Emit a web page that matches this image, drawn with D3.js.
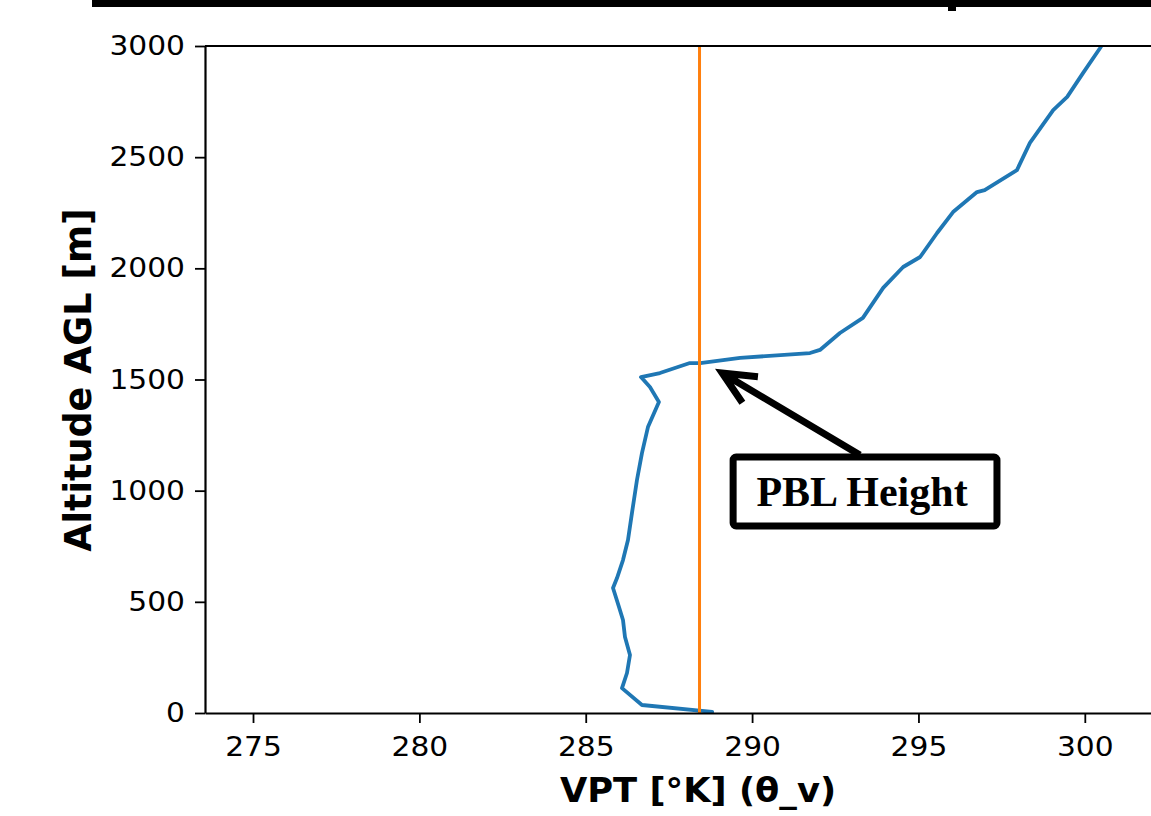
<!DOCTYPE html>
<html>
<head>
<meta charset="utf-8">
<script src="https://cdn.jsdelivr.net/npm/d3@7"></script>
<style>
html,body{margin:0;padding:0;background:#fff;}
svg{display:block;}
</style>
</head>
<body>
<svg id="chart" width="1151" height="816"></svg>
<script>
// ---- data ----
const vpt = [288.80, 286.69, 286.09, 286.24, 286.33, 286.18, 286.12, 286.00, 285.82, 285.94, 286.12, 286.27, 286.39, 286.54, 286.69, 286.87, 287.20, 286.93, 286.66, 287.23, 288.13, 288.44, 289.64, 291.74, 292.04, 292.64, 293.33, 293.94, 294.54, 295.05, 295.56, 296.04, 296.76, 296.99, 297.96, 298.35, 299.05, 299.47, 299.95, 300.46, 300.62];
const altitude = [5, 36, 112, 180, 261, 342, 418, 477, 562, 607, 688, 778, 900, 1048, 1169, 1286, 1399, 1466, 1511, 1529, 1574, 1574, 1597, 1619, 1633, 1709, 1777, 1912, 2006, 2051, 2159, 2253, 2343, 2352, 2442, 2564, 2712, 2771, 2879, 2991, 3030];
const pblVpt = 288.42;
const xTicks = [275, 280, 285, 290, 295, 300];
const yTicks = [0, 500, 1000, 1500, 2000, 2500, 3000];
const xDomain = [273.557, 302.26];
const yDomain = [0, 3000];
const arrowTip = [289.10, 1529];
const arrowTail = [293.24, 1160];
const boxX = [289.43, 297.36];
const boxY = [841, 1151];
const annotationText = "PBL Height";
const xLabel = "VPT [°K] (θ_v)";
const yLabel = "Altitude AGL [m]";

// ---- layout ----
const svg = d3.select("#chart");
const mLeft = 205, mRight = 1160, mTop = 46, mBottom = 713;
const x = d3.scaleLinear().domain(xDomain).range([mLeft, mRight]);
const y = d3.scaleLinear().domain(yDomain).range([mBottom, mTop]);

// cropped element of figure above
svg.append("rect").attr("x", 92).attr("y", 0).attr("width", 1060).attr("height", 7).attr("fill", "#000");
svg.append("rect").attr("x", 948).attr("y", 0).attr("width", 8).attr("height", 11).attr("fill", "#000");

svg.append("clipPath").attr("id", "clip").append("rect")
  .attr("x", mLeft).attr("y", mTop).attr("width", mRight - mLeft).attr("height", mBottom - mTop);

const plot = svg.append("g").attr("clip-path", "url(#clip)");

const pts = vpt.map((v, i) => [v, altitude[i]]);
plot.append("path")
  .datum(pts)
  .attr("d", d3.line().x(d => x(d[0])).y(d => y(d[1])))
  .attr("fill", "none")
  .attr("stroke", "#1f77b4")
  .attr("stroke-width", 3.8)
  .attr("stroke-linejoin", "round")
  .attr("stroke-linecap", "round");

plot.append("line")
  .attr("x1", x(pblVpt)).attr("x2", x(pblVpt))
  .attr("y1", y(yDomain[0])).attr("y2", y(yDomain[1]))
  .attr("stroke", "#ff7f0e").attr("stroke-width", 3);

// axes
const fontTick = "DejaVu Sans, sans-serif";
const sx = 1.1;
const xAxis = svg.append("g").attr("transform", `translate(0,${mBottom})`)
  .call(d3.axisBottom(x).tickValues(xTicks).tickFormat(d3.format("d")).tickSize(10).tickPadding(14).tickSizeOuter(0));
const yAxis = svg.append("g").attr("transform", `translate(${mLeft},0)`)
  .call(d3.axisLeft(y).tickValues(yTicks).tickFormat(d3.format("d")).tickSize(10).tickPadding(10).tickSizeOuter(0));
[xAxis, yAxis].forEach(a => {
  a.selectAll("text").attr("font-family", fontTick).attr("font-size", 27).attr("fill", "#000");
  a.selectAll(".tick line").attr("stroke", "#000").attr("stroke-width", 1.8);
  a.select(".domain").attr("stroke", "#000").attr("stroke-width", 2.2);
});
xAxis.selectAll("text").attr("transform", `scale(${sx},1)`);
yAxis.selectAll("text").attr("x", -20 / sx).attr("transform", `scale(${sx},1)`);
// top spine
svg.append("line").attr("x1", mLeft).attr("x2", 1151).attr("y1", mTop).attr("y2", mTop)
  .attr("stroke", "#000").attr("stroke-width", 2.2);

// axis titles
svg.append("text").attr("transform", `translate(698,802) scale(1.07,1)`)
  .attr("text-anchor", "middle").attr("font-family", fontTick).attr("font-weight", "bold")
  .attr("font-size", 33).text(xLabel);
svg.append("text").attr("transform", `translate(91,380) rotate(-90)`)
  .attr("text-anchor", "middle").attr("font-family", fontTick).attr("font-weight", "bold")
  .attr("font-size", 36.5).text(yLabel);

// annotation
const tip = [x(arrowTip[0]), y(arrowTip[1])];
const tail = [x(arrowTail[0]), y(arrowTail[1])];
const ang = Math.atan2(tail[1] - tip[1], tail[0] - tip[0]);
const hl = 36, ha = 25 * Math.PI / 180;
const a1 = [tip[0] + hl * Math.cos(ang - ha), tip[1] + hl * Math.sin(ang - ha)];
const a2 = [tip[0] + hl * Math.cos(ang + ha), tip[1] + hl * Math.sin(ang + ha)];
svg.append("path")
  .attr("d", `M${tail[0]},${tail[1]}L${tip[0]},${tip[1]}M${a1[0]},${a1[1]}L${tip[0]},${tip[1]}L${a2[0]},${a2[1]}`)
  .attr("fill", "none").attr("stroke", "#000").attr("stroke-width", 7)
  .attr("stroke-linejoin", "miter").attr("stroke-linecap", "butt");

svg.append("rect")
  .attr("x", x(boxX[0])).attr("y", y(boxY[1]))
  .attr("width", x(boxX[1]) - x(boxX[0])).attr("height", y(boxY[0]) - y(boxY[1]))
  .attr("rx", 3).attr("fill", "#fff").attr("stroke", "#000").attr("stroke-width", 7);
svg.append("text")
  .attr("x", (x(boxX[0]) + x(boxX[1])) / 2 - 3).attr("y", (y(boxY[0]) + y(boxY[1])) / 2 + 14.5)
  .attr("text-anchor", "middle").attr("font-family", "Liberation Serif, Times New Roman, serif")
  .attr("font-weight", "bold").attr("font-size", 42).text(annotationText);
</script>
</body>
</html>
